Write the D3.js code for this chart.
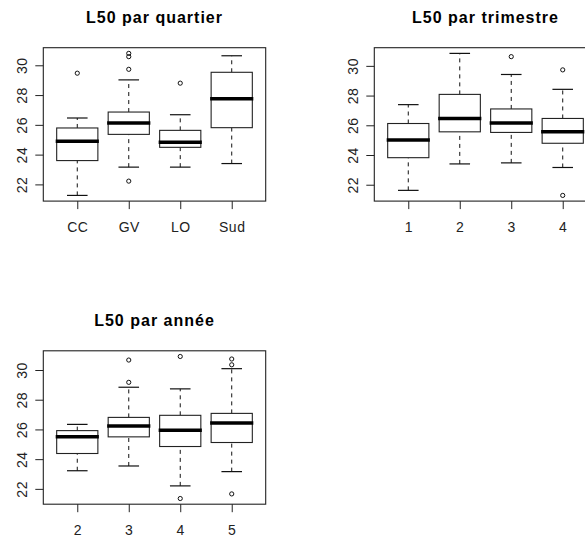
<!DOCTYPE html>
<html>
<head>
<meta charset="utf-8">
<script src="https://cdn.jsdelivr.net/npm/d3@7"></script>
<style>
  body { margin: 0; background: #fff; }
  svg { display: block; font-family: "Liberation Sans", Arial, sans-serif; }
</style>
</head>
<body>
<div id="chart"></div>
<script>
// Box stats per group: [lower whisker, Q1, median, Q3, upper whisker]
const quartierLabels = ["CC", "GV", "LO", "Sud"];
const quartierStats = [
    [21.26, 23.60, 24.89, 25.79, 26.46],
    [23.16, 25.36, 26.12, 26.86, 29.02],
    [23.16, 24.49, 24.83, 25.63, 26.68],
    [23.40, 25.81, 27.75, 29.53, 30.64]
];
const quartierOutliers = [[29.47], [30.80, 30.58, 29.73, 22.22], [28.80], []];

const trimestreLabels = ["1", "2", "3", "4"];
const trimestreStats = [
    [21.62, 23.82, 25.01, 26.12, 27.39],
    [23.40, 25.56, 26.46, 28.08, 30.84],
    [23.47, 25.52, 26.16, 27.10, 29.42],
    [23.16, 24.79, 25.56, 26.46, 28.42]
];
const trimestreOutliers = [[], [], [30.62], [29.73, 21.28]];

const anneeLabels = ["2", "3", "4", "5"];
const anneeStats = [
    [23.22, 24.38, 25.50, 25.92, 26.34],
    [23.54, 25.50, 26.23, 26.81, 28.84],
    [22.20, 24.85, 25.94, 26.95, 28.73],
    [23.16, 25.12, 26.43, 27.08, 30.09]
];
const anneeOutliers = [[], [30.67, 29.17], [30.91, 21.35], [30.74, 30.35, 21.66]];

const yTicks = [22, 24, 26, 28, 30];

// Page and panel geometry
const svgWidth = 585;
const svgHeight = 539;
const plotW = 222.4;
const plotH = 153.4;

const panels = [
    {title: "L50 par quartier", labels: quartierLabels, stats: quartierStats, outliers: quartierOutliers, x: 43.3, y: 47.7},
    {title: "L50 par trimestre", labels: trimestreLabels, stats: trimestreStats, outliers: trimestreOutliers, x: 374.3, y: 47.7},
    {title: "L50 par année", labels: anneeLabels, stats: anneeStats, outliers: anneeOutliers, x: 43.3, y: 350.8}
];

const svg = d3.select("#chart")
              .append("svg")
              .attr("width", svgWidth)
              .attr("height", svgHeight);

panels.forEach(p => drawPanel(p));

function drawPanel(p) {
    const n = p.labels.length;

    // R style ranges: extend by 4% on both sides
    const allVals = p.stats.flat().concat(p.outliers.flat());
    const [lo, hi] = d3.extent(allVals);
    const pad = (hi - lo) * 0.04;

    const x = d3.scaleLinear()
                .domain([0.5 - n * 0.04, n + 0.5 + n * 0.04])
                .range([0, plotW]);
    const y = d3.scaleLinear()
                .domain([lo - pad, hi + pad])
                .range([plotH, 0]);

    const boxW = x(0.8) - x(0);
    const g = svg.append("g")
                 .attr("transform", `translate(${p.x}, ${p.y})`);

    // Title
    g.append("text")
     .attr("x", plotW / 2)
     .attr("y", -25)
     .attr("text-anchor", "middle")
     .style("font-size", "16px")
     .style("font-weight", "bold")
     .style("letter-spacing", "1px")
     .text(p.title);

    // Axes
    const xAxis = g.append("g")
                   .attr("transform", `translate(0, ${plotH})`)
                   .call(d3.axisBottom(x).tickValues(d3.range(1, n + 1))
                           .tickFormat((d, i) => p.labels[i]).tickSize(8).tickPadding(13));
    const yAxis = g.append("g")
                   .call(d3.axisLeft(y).tickValues(yTicks).tickSize(8).tickPadding(6));

    [xAxis, yAxis].forEach(a => {
        a.select(".domain").remove();
        a.selectAll("line").attr("stroke", "#222");
        a.selectAll("text")
         .attr("fill", "#222")
         .style("font-size", "14px")
         .style("letter-spacing", "0.5px")
         .style("font-family", "'Liberation Sans', Arial, sans-serif");
    });
    yAxis.selectAll("text")
         .attr("x", null).attr("dy", null)
         .attr("text-anchor", "middle")
         .attr("transform", "translate(-16, 0) rotate(-90)");

    // Boxes
    const groups = g.selectAll(".bx")
                    .data(p.stats)
                    .enter()
                    .append("g")
                    .attr("transform", (d, i) => `translate(${x(i + 1)}, 0)`);

    groups.append("line")
          .attr("y1", d => y(d[0])).attr("y2", d => y(d[1]))
          .attr("stroke", "#111").attr("stroke-dasharray", "4,4");
    groups.append("line")
          .attr("y1", d => y(d[3])).attr("y2", d => y(d[4]))
          .attr("stroke", "#111").attr("stroke-dasharray", "4,4");
    [0, 4].forEach(k => {
        groups.append("line")
              .attr("x1", -boxW / 4).attr("x2", boxW / 4)
              .attr("y1", d => y(d[k])).attr("y2", d => y(d[k]))
              .attr("stroke", "#111").attr("stroke-width", 1.2);
    });
    groups.append("rect")
          .attr("x", -boxW / 2).attr("width", boxW)
          .attr("y", d => y(d[3])).attr("height", d => y(d[1]) - y(d[3]))
          .attr("fill", "#fff").attr("stroke", "#222").attr("stroke-width", 1.1);
    groups.append("line")
          .attr("x1", -boxW / 2 - 1).attr("x2", boxW / 2 + 1)
          .attr("y1", d => y(d[2])).attr("y2", d => y(d[2]))
          .attr("stroke", "#000").attr("stroke-width", 3.5);

    // Outliers
    groups.each(function(d, i) {
        d3.select(this).selectAll("circle")
          .data(p.outliers[i])
          .enter()
          .append("circle")
          .attr("cy", v => y(v))
          .attr("r", 2.1)
          .attr("fill", "none")
          .attr("stroke", "#111")
          .attr("stroke-width", 1);
    });

    // Plot frame
    g.append("rect")
     .attr("width", plotW).attr("height", plotH)
     .attr("fill", "none").attr("stroke", "#222").attr("stroke-width", 1.1);
}
</script>
</body>
</html>
